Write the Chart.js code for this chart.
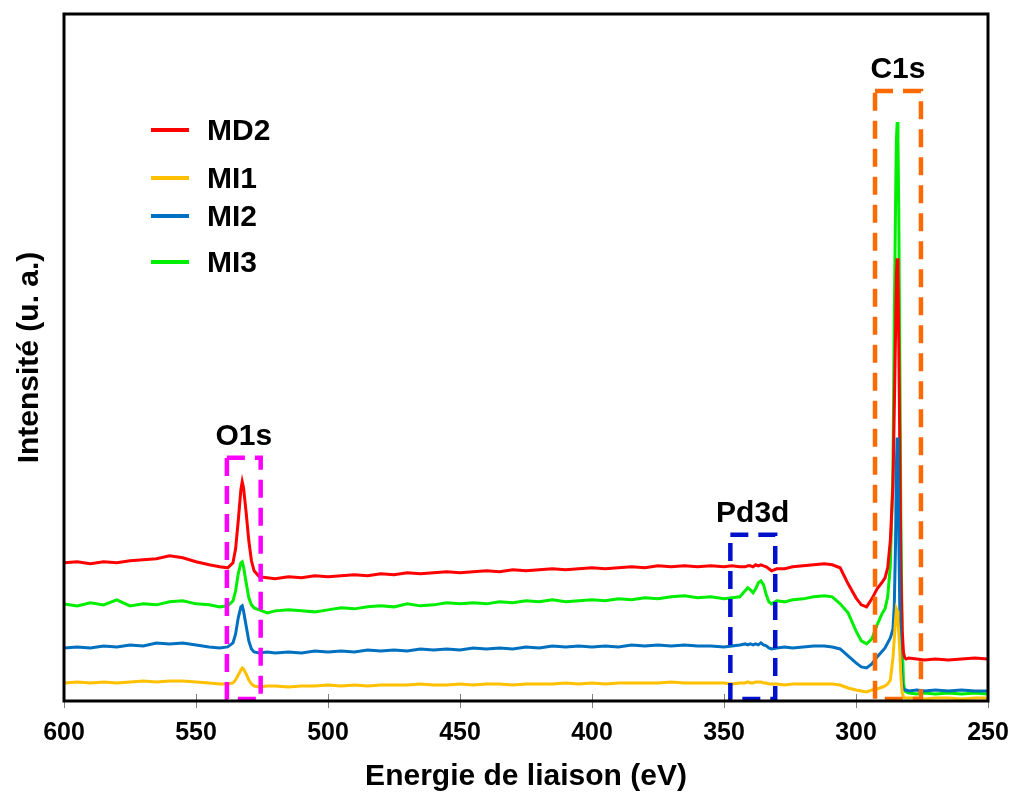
<!DOCTYPE html>
<html>
<head>
<meta charset="utf-8">
<script src="https://cdn.jsdelivr.net/npm/chart.js@4.4.1/dist/chart.umd.min.js"></script>
<style>
	html, body { margin: 0; padding: 0; background: #ffffff; }
	canvas { display: block; }
</style>
</head>
<body>
<canvas id="xps" width="1013" height="792"></canvas>
<script>
// binding energy (eV), shared by every spectrum
var energy = [
	600, 595, 590, 585, 580, 575, 570, 565, 560, 555,
	550, 545, 541, 538, 536, 535, 534, 533, 532.5, 532,
	531, 530, 529, 528, 526, 523, 520, 515, 510, 505,
	500, 495, 490, 485, 480, 475, 470, 465, 460, 455,
	450, 445, 440, 435, 430, 425, 420, 415, 410, 405,
	400, 395, 390, 385, 380, 375, 370, 365, 360, 355,
	350, 347, 344, 342, 341, 340, 339, 338, 337, 336,
	335, 334, 333, 332, 330, 327, 324, 320, 316, 312,
	309, 306, 303, 300, 298, 296, 294, 292, 290, 289,
	288, 287, 286, 285.5, 285, 284.7, 284.4, 284.1, 283.8, 283.4,
	283, 282.5, 282, 281.5, 281, 280, 277, 274, 270, 265,
	260, 255, 250
];

// intensities (u. a.), offset curves
var md2 = [
	138, 139, 137, 139, 138, 140, 141, 142, 145, 143,
	139, 136, 134, 133, 138, 152, 180, 211, 219, 213,
	188, 160, 140, 130, 124, 123, 122, 124, 123, 125,
	124, 125, 126, 125, 127, 126, 128, 127, 128, 129,
	128, 129, 130, 129, 131, 130, 131, 132, 131, 132,
	133, 132, 133, 134, 133, 135, 134, 135, 134, 135,
	134, 135, 134, 134, 135, 135, 134, 136, 135, 136,
	135, 134, 132, 130, 132, 132, 134, 135, 136, 137,
	136, 133, 117, 103, 96, 94, 102, 112, 119, 123,
	133, 160, 215, 290, 370, 425, 442, 425, 360, 250,
	130, 70, 48, 43, 42, 43, 42, 41, 42, 41,
	42, 43, 42
];
var mi1 = [
	18, 19, 18, 19, 18, 19, 20, 19, 20, 20,
	19, 18, 17, 17, 18, 21, 26, 31, 33, 32,
	27, 21, 17, 15, 14, 15, 15, 14, 15, 15,
	16, 15, 16, 15, 16, 16, 16, 17, 16, 16,
	17, 16, 17, 17, 16, 17, 17, 17, 18, 17,
	18, 17, 18, 18, 18, 18, 19, 18, 18, 18,
	18, 17, 18, 18, 19, 18, 18, 19, 19, 19,
	18, 18, 17, 17, 17, 16, 17, 17, 17, 17,
	17, 16, 13, 11, 10, 9, 11, 12, 14, 15,
	17, 21, 43, 62, 82, 92, 90, 80, 68, 50,
	25, 8, 4, 3, 3, 3, 3, 2, 3, 3,
	2, 3, 3
];
var mi2 = [
	53, 54, 53, 55, 54, 56, 55, 58, 57, 58,
	56, 54, 53, 54, 58, 67, 83, 94, 95, 90,
	75, 60, 52, 49, 48, 49, 48, 49, 48, 50,
	49, 50, 49, 51, 50, 51, 50, 52, 51, 52,
	51, 53, 52, 53, 52, 54, 53, 55, 54, 55,
	54, 55, 54, 56, 55, 56, 55, 56, 55, 55,
	54, 55, 56, 57, 56, 57, 56, 57, 56, 58,
	56, 55, 53, 52, 53, 54, 53, 54, 55, 55,
	54, 52, 45, 38, 34, 33, 37, 44, 50, 53,
	58, 63, 72, 95, 160, 235, 263, 240, 170, 90,
	40, 18, 12, 11, 11, 10, 11, 10, 11, 10,
	11, 10, 10
];
var mi3 = [
	97, 95, 98, 96, 101, 95, 97, 96, 99, 100,
	97, 96, 94, 95, 100, 110, 127, 138, 139, 134,
	118, 103, 96, 93, 91, 88, 90, 91, 90, 89,
	91, 93, 92, 94, 95, 94, 97, 95, 96, 98,
	97, 98, 97, 99, 98, 100, 99, 101, 99, 100,
	101, 100, 102, 101, 103, 102, 104, 105, 103, 104,
	102, 103, 104, 110, 113, 111, 108, 112, 118, 120,
	116, 106, 99, 97, 100, 99, 101, 102, 104, 105,
	104, 97, 88, 70, 60, 57, 62, 76, 88, 92,
	104, 135, 230, 380, 500, 560, 578, 560, 490, 340,
	180, 60, 18, 10, 9, 8, 7, 8, 7, 8,
	7, 8, 7
];

var seriesNames = ['MD2', 'MI1', 'MI2', 'MI3'];
var seriesValues = [md2, mi1, mi2, mi3];
var seriesColors = ['#ff0000', '#ffc000', '#0070c0', '#00ee00'];
var seriesOrder = [3, 1, 2, 4];

// peak regions marked with dashed boxes
var peakNames = ['O1s', 'Pd3d', 'C1s'];
var peakLeft = [538.3, 347.6, 292.8];
var peakRight = [525.5, 330.6, 275.4];
var peakTop = [243, 166, 609];
var peakBottom = [2, 2, 2];
var peakColors = ['#ff00ff', '#0010cc', '#ff6a00'];

var xTicks = [600, 550, 500, 450, 400, 350, 300, 250];

var FONT = "'Liberation Sans', Arial, sans-serif";

function buildDatasets() {
	var datasets = [];
	for (var i = 0; i < seriesNames.length; i++) {
		var points = [];
		for (var j = 0; j < energy.length; j++) {
			points.push({x: energy[j], y: seriesValues[i][j]});
		}
		datasets.push({
			label: seriesNames[i],
			data: points,
			borderColor: seriesColors[i],
			backgroundColor: seriesColors[i],
			borderWidth: 3,
			pointRadius: 0,
			tension: 0,
			order: seriesOrder[i]
		});
	}
	return datasets;
}

// frame round the plot, plus small tick marks crossing the x axis
const chartAreaBorder = {
	id: 'chartAreaBorder',
	afterDraw(chart, args, options) {
		const {ctx, chartArea: {left, top, width, height, bottom}, scales: {x}} = chart;
		ctx.save();
		ctx.strokeStyle = options.tickColor;
		ctx.lineWidth = 1;
		xTicks.forEach(v => {
			var px = Math.round(x.getPixelForValue(v)) + 0.5;
			ctx.beginPath();
			ctx.moveTo(px, bottom - options.tickSize);
			ctx.lineTo(px, bottom + options.tickSize);
			ctx.stroke();
		});
		ctx.strokeStyle = options.borderColor;
		ctx.lineWidth = options.borderWidth;
		ctx.strokeRect(left, top, width, height);
		ctx.restore();
	}
};

const peakBoxes = {
	id: 'peakBoxes',
	afterDatasetsDraw(chart, args, options) {
		const {ctx, scales: {x, y}} = chart;
		ctx.save();
		for (var i = 0; i < peakNames.length; i++) {
			var x1 = x.getPixelForValue(peakLeft[i]),
				x2 = x.getPixelForValue(peakRight[i]),
				y1 = y.getPixelForValue(peakTop[i]),
				y2 = y.getPixelForValue(peakBottom[i]);
			ctx.strokeStyle = peakColors[i];
			ctx.lineWidth = options.lineWidth;
			ctx.setLineDash(options.dash);
			ctx.strokeRect(x1, y1, x2 - x1, y2 - y1);
			ctx.setLineDash([]);
			ctx.fillStyle = '#000000';
			ctx.font = 'bold 30px ' + FONT;
			ctx.textAlign = 'center';
			ctx.textBaseline = 'alphabetic';
			ctx.fillText(peakNames[i], (x1 + x2) / 2, y1 - options.labelGap);
		}
		ctx.restore();
	}
};

const insideLegend = {
	id: 'insideLegend',
	afterDraw(chart, args, options) {
		const {ctx, chartArea: {left, top}} = chart;
		ctx.save();
		ctx.font = 'bold 30px ' + FONT;
		ctx.textAlign = 'left';
		ctx.textBaseline = 'middle';
		for (var i = 0; i < seriesNames.length; i++) {
			var yy = top + options.rows[i];
			ctx.strokeStyle = seriesColors[i];
			ctx.lineWidth = 4;
			ctx.beginPath();
			ctx.moveTo(left + options.lineStart, yy);
			ctx.lineTo(left + options.lineEnd, yy);
			ctx.stroke();
			ctx.fillStyle = '#000000';
			ctx.fillText(seriesNames[i], left + options.textStart, yy + 2);
		}
		ctx.restore();
	}
};

function createXpsChart(ctx) {
	var chart = new Chart(ctx, {
	type: 'line',
	data: {
		datasets: buildDatasets()
	},
	options: {
		responsive: false,
		animation: false,
		layout: {
			padding: {top: 14, right: 25, left: 0, bottom: 0}
		},
		scales: {
			x: {
				type: 'linear',
				reverse: true,
				min: 250,
				max: 600,
				border: {display: false},
				grid: {
					drawOnChartArea: false,
					drawTicks: true,
					tickLength: 13,
					tickColor: 'rgba(0,0,0,0)'
				},
				afterBuildTicks: function (axis) {
					axis.ticks = xTicks.map(v => ({value: v}));
				},
				ticks: {
					color: '#000000',
					padding: 4,
					maxRotation: 0,
					font: {family: FONT, size: 25, weight: 'bold'}
				},
				title: {
					display: true,
					text: 'Energie de liaison (eV)',
					color: '#000000',
					padding: {top: 10, bottom: 0},
					font: {family: FONT, size: 30, weight: 'bold', lineHeight: 1.0}
				}
			},
			y: {
				min: 0,
				max: 686,
				border: {display: false},
				grid: {display: false},
				ticks: {display: false},
				title: {
					display: true,
					text: 'Intensité (u. a.)',
					color: '#000000',
					padding: {top: 12, bottom: 8},
					font: {family: FONT, size: 30, weight: 'bold', lineHeight: 1.2}
				}
			}
		},
		plugins: {
			legend: {display: false},
			tooltip: {enabled: false},
			chartAreaBorder: {
				borderColor: '#000000',
				borderWidth: 3,
				tickColor: '#808080',
				tickSize: 7
			},
			peakBoxes: {
				lineWidth: 4.5,
				dash: [18, 10],
				labelGap: 13
			},
			insideLegend: {
				rows: [116, 164, 202, 248],
				lineStart: 87,
				lineEnd: 125,
				textStart: 143
			}
		}
	},
	plugins: [peakBoxes, chartAreaBorder, insideLegend]
	});

	return chart;
}

createXpsChart(document.getElementById('xps'));
</script>
</body>
</html>
